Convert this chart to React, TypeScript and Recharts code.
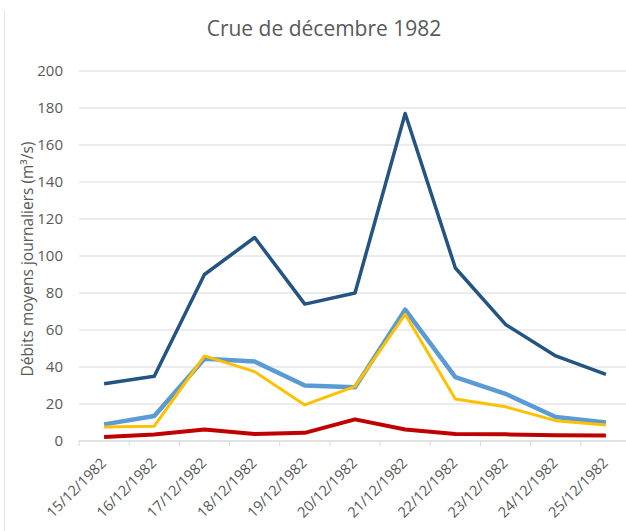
import React from 'react';
import { LineChart, Line, XAxis, YAxis, CartesianGrid, Label } from 'recharts';

const dates = ['15/12/1982', '16/12/1982', '17/12/1982', '18/12/1982', '19/12/1982', '20/12/1982', '21/12/1982', '22/12/1982', '23/12/1982', '24/12/1982', '25/12/1982'];
const darkBlue = [31, 35, 90, 110, 74, 80, 177, 93.5, 63, 46, 36];
const lightBlue = [9, 13.5, 44.5, 43, 30, 29, 71, 34.5, 25.5, 13, 10];
const yellow = [7.6, 8, 46, 37.5, 19.5, 29.5, 68.5, 22.7, 18.5, 11, 8.6];
const red = [2.2, 3.5, 6.2, 3.8, 4.4, 11.7, 6.2, 3.8, 3.6, 3.1, 3];
const yTicks = [0, 20, 40, 60, 80, 100, 120, 140, 160, 180, 200];
const title = 'Crue de décembre 1982';
const yLabel = 'Débits moyens journaliers (m³/s)';

const data = dates.map((d, i) => ({ i, date: d, a: darkBlue[i], b: lightBlue[i], c: yellow[i], d: red[i] }));
const xTicks: number[] = [];
dates.forEach((_, i) => { xTicks.push(i - 0.5); xTicks.push(i); });
xTicks.push(dates.length - 0.5);

const FONT = '"Open Sans", "Noto Sans", sans-serif';
const TXT = '#595959';

const XTick = (props: any) => {
  const { x, y, payload } = props;
  const v = payload.value;
  if (Number.isInteger(v)) {
    const tx = x + 3;
    const ty = y + 18;
    return (
      <text x={tx} y={ty} textAnchor="end" transform={`rotate(-45, ${tx}, ${ty})`} fill={TXT} fontSize={14.5} fontFamily={FONT}>
        {dates[v]}
      </text>
    );
  }
  return <line x1={x} x2={x} y1={y - 5} y2={y} stroke="#d9d9d9" strokeWidth={1} />;
};

const YLabel = (props: any) => {
  const vb = props.viewBox;
  const cx = vb.x + 27;
  const cy = vb.y + vb.height / 2 + 3;
  return (
    <text x={cx} y={cy} transform={`rotate(-90, ${cx}, ${cy})`} textAnchor="middle" dominantBaseline="central" fill={TXT} fontSize={15.5} fontFamily={FONT}>
      {yLabel}
    </text>
  );
};

export default function App() {
  return (
    <div style={{ position: 'fixed', left: 0, top: 0, width: 626, height: 531, overflow: 'hidden', background: '#fff' }}>
      <div style={{ position: 'absolute', left: 4, top: 10, width: 1, height: 521, background: '#e6e6e6' }} />
      <div style={{ position: 'absolute', left: 0, top: 18, width: 648, textAlign: 'center', fontFamily: FONT, fontSize: 21, lineHeight: 1, color: TXT }}>
        {title}
      </div>
      <div style={{ position: 'absolute', left: 0, top: 0 }}>
        <LineChart width={640} height={531} data={data} margin={{ top: 71, right: 9, left: 0, bottom: 0 }}>
          <CartesianGrid vertical={false} stroke="#d9d9d9" strokeWidth={1} />
          <XAxis
            dataKey="i"
            type="number"
            domain={[-0.5, dates.length - 0.5]}
            ticks={xTicks}
            interval={0}
            height={90}
            tickLine={false}
            tickSize={5}
            tickMargin={0}
            axisLine={{ stroke: '#d9d9d9' }}
            tick={<XTick />}
          />
          <YAxis
            domain={[0, 200]}
            ticks={yTicks}
            width={79}
            axisLine={false}
            tickLine={false}
            tickMargin={10}
            tick={{ fill: TXT, fontSize: 15, fontFamily: FONT }}
          >
            <Label content={<YLabel />} />
          </YAxis>
          <Line dataKey="a" stroke="#245482" strokeWidth={3.5} dot={false} isAnimationActive={false} strokeLinejoin="round" />
          <Line dataKey="b" stroke="#5B9BD5" strokeWidth={4.5} dot={false} isAnimationActive={false} strokeLinejoin="round" />
          <Line dataKey="c" stroke="#FFC000" strokeWidth={3} dot={false} isAnimationActive={false} strokeLinejoin="round" />
          <Line dataKey="d" stroke="#C00000" strokeWidth={4} dot={false} isAnimationActive={false} strokeLinejoin="round" />
        </LineChart>
      </div>
    </div>
  );
}
